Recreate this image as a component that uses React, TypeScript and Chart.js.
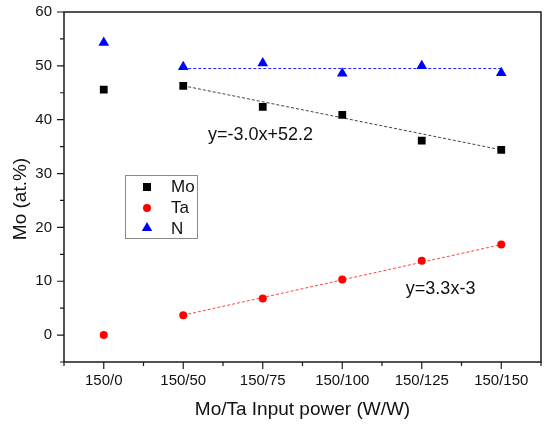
import { useEffect, useRef } from 'react'
import { Chart, registerables } from 'chart.js'

Chart.register(...registerables)

const categories = ['150/0', '150/50', '150/75', '150/100', '150/125', '150/150']
const moValues = [45.6, 46.3, 42.4, 40.9, 36.1, 34.4]
const taValues = [0, 3.7, 6.8, 10.3, 13.8, 16.8]
const nValues = [54.3, 49.8, 50.5, 48.6, 50.0, 48.7]
// fitted trend lines, read at their two ends (150/50 and 150/150)
const moFit = [null, 46.3, null, null, null, 34.4]
const taFit = [null, 3.7, null, null, null, 16.8]
const nFit = [null, 49.5, null, null, null, 49.5]
const yMajorTicks = [0, 10, 20, 30, 40, 50, 60]

const FONT = '"Liberation Sans", Arial, sans-serif'

const overlayPlugin = {
  id: 'originStyle',
  afterDraw(chart: any) {
    const { ctx, chartArea } = chart
    const xs = chart.scales.x
    const ys = chart.scales.y
    ctx.save()

    // frame
    ctx.strokeStyle = '#1a1a1a'
    ctx.lineWidth = 1.5
    ctx.strokeRect(chartArea.left, chartArea.top, chartArea.right - chartArea.left, chartArea.bottom - chartArea.top)

    // y ticks
    ctx.lineWidth = 1.2
    ctx.beginPath()
    for (let v = -5; v <= 60; v += 5) {
      const y = ys.getPixelForValue(v)
      const len = yMajorTicks.includes(v) ? 7 : 4
      ctx.moveTo(chartArea.left, y)
      ctx.lineTo(chartArea.left - len, y)
    }
    // x ticks
    for (let i = 0; i < categories.length; i++) {
      const x = xs.getPixelForValue(i)
      ctx.moveTo(x, chartArea.bottom)
      ctx.lineTo(x, chartArea.bottom + 7)
    }
    for (let i = 0; i <= categories.length; i++) {
      const x = xs.getPixelForValue(i - 0.5)
      ctx.moveTo(x, chartArea.bottom)
      ctx.lineTo(x, chartArea.bottom + 4)
    }
    ctx.stroke()

    // axis titles
    ctx.fillStyle = '#111'
    ctx.font = `19px ${FONT}`
    ctx.textAlign = 'center'
    ctx.textBaseline = 'middle'
    ctx.fillText('Mo/Ta Input power (W/W)', (chartArea.left + chartArea.right) / 2, 410)
    ctx.save()
    ctx.translate(21, 199)
    ctx.rotate(-Math.PI / 2)
    ctx.fillText('Mo (at.%)', 0, 0)
    ctx.restore()

    // fit equations
    ctx.font = `18px ${FONT}`
    ctx.textAlign = 'left'
    ctx.fillText('y=-3.0x+52.2', xs.getPixelForValue(1.31), ys.getPixelForValue(37.2))
    ctx.fillText('y=3.3x-3', xs.getPixelForValue(3.8), ys.getPixelForValue(8.6))

    // legend box
    ctx.strokeStyle = '#8a8a8a'
    ctx.lineWidth = 1
    ctx.strokeRect(125.5, 175.5, 72, 63)
    const mx = 147
    ctx.fillStyle = '#000'
    ctx.fillRect(mx - 4, 187 - 4, 8, 8)
    ctx.fillStyle = '#ff0000'
    ctx.beginPath()
    ctx.arc(mx, 208, 4, 0, Math.PI * 2)
    ctx.fill()
    ctx.fillStyle = '#0000ff'
    ctx.beginPath()
    ctx.moveTo(mx, 228 - 6)
    ctx.lineTo(mx + 5.2, 228 + 3)
    ctx.lineTo(mx - 5.2, 228 + 3)
    ctx.closePath()
    ctx.fill()
    ctx.fillStyle = '#111'
    ctx.font = `17px ${FONT}`
    ctx.fillText('Mo', 171, 187)
    ctx.fillText('Ta', 171, 208)
    ctx.fillText('N', 171, 229)

    ctx.restore()
  }
}

export default function App() {
  const chartRef = useRef<HTMLCanvasElement>(null)
  const chartInstance = useRef<Chart | null>(null)

  useEffect(() => {
    if (!chartRef.current) return
    if (chartInstance.current) chartInstance.current.destroy()
    const ctx = chartRef.current.getContext('2d')
    if (!ctx) return

    const points = (label: string, data: number[], color: string, style: string, radius: number) => ({
      label,
      data,
      showLine: false,
      pointStyle: style,
      pointRadius: radius,
      pointHoverRadius: radius,
      pointBackgroundColor: color,
      pointBorderColor: color,
      pointBorderWidth: 0,
      backgroundColor: color,
      borderColor: color,
      order: 1
    })
    const fit = (label: string, data: (number | null)[], color: string, dash: number[]) => ({
      label,
      data,
      spanGaps: true,
      pointRadius: 0,
      borderColor: color,
      borderWidth: 1,
      borderDash: dash,
      fill: false,
      order: 2
    })

    chartInstance.current = new Chart(ctx, {
      type: 'line',
      data: {
        labels: categories,
        datasets: [
          points('Mo', moValues, '#000000', 'rect', 5.5),
          points('Ta', taValues, '#ff0000', 'circle', 4),
          points('N', nValues, '#0000ff', 'triangle', 6.2),
          fit('Mo fit', moFit, '#444444', [3, 2]),
          fit('Ta fit', taFit, '#ff4444', [3, 2]),
          fit('N fit', nFit, '#2222ff', [3, 2])
        ] as any
      },
      options: {
        responsive: true,
        maintainAspectRatio: false,
        animation: false,
        layout: { padding: { left: 0, right: 9, top: 12, bottom: 0 } },
        plugins: {
          legend: { display: false },
          tooltip: { enabled: false }
        },
        scales: {
          x: {
            offset: true,
            grid: { display: false, drawTicks: false },
            border: { display: false },
            ticks: { color: '#111', font: { family: FONT, size: 15 }, padding: 10, maxRotation: 0, autoSkip: false },
            afterFit: (scale: any) => {
              scale.height = 64
              scale.paddingLeft = 0
              scale.paddingRight = 0
            }
          },
          y: {
            min: -5,
            max: 60,
            grid: { display: false, drawTicks: false },
            border: { display: false },
            ticks: {
              stepSize: 5,
              color: '#111',
              font: { family: FONT, size: 15 },
              padding: 12,
              callback: (value: any) => (yMajorTicks.includes(Number(value)) ? String(value) : '')
            },
            afterFit: (scale: any) => {
              scale.width = 64
              scale.paddingTop = 0
              scale.paddingBottom = 0
            }
          }
        }
      },
      plugins: [overlayPlugin]
    })

    return () => {
      if (chartInstance.current) chartInstance.current.destroy()
    }
  }, [])

  return (
    <div style={{ position: 'fixed', left: 0, top: 0, width: 550, height: 426, background: '#fff' }}>
      <canvas ref={chartRef} />
    </div>
  )
}
